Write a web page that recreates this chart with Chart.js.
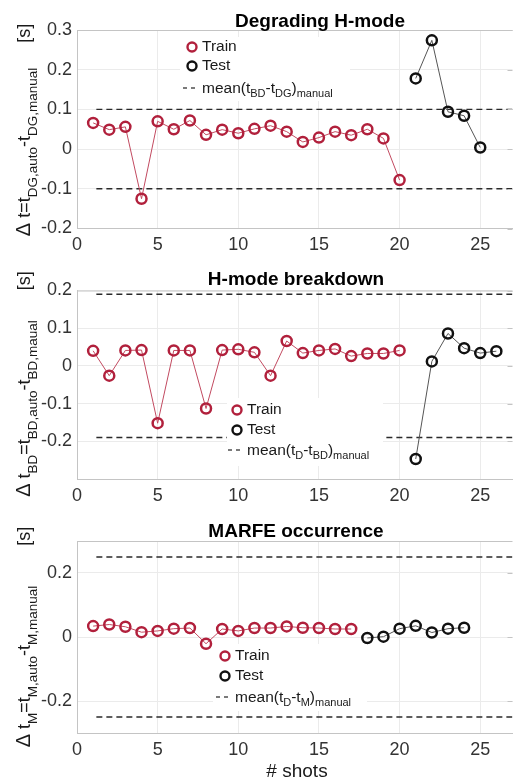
<!DOCTYPE html>
<html>
<head>
<meta charset="utf-8">
<script src="https://cdn.jsdelivr.net/npm/chart.js@4.4.1/dist/chart.umd.min.js"></script>
<style>
  html, body { margin: 0; padding: 0; background: #fff; overflow: hidden; }
  #wrap { position: relative; width: 514px; height: 780px; overflow: hidden; }
  canvas { position: absolute; left: 0; }
</style>
</head>
<body>
<div id="wrap">
  <canvas id="c1" width="520" height="260" style="top:0px"></canvas>
  <canvas id="c2" width="520" height="250" style="top:260px"></canvas>
  <canvas id="c3" width="520" height="270" style="top:510px"></canvas>
</div>
<script>
// --- data ---
const xTicks = [0, 5, 10, 15, 20, 25];

// Degrading H-mode
const dgTrainShots = [1, 2, 3, 4, 5, 6, 7, 8, 9, 10, 11, 12, 13, 14, 15, 16, 17, 18, 19, 20];
const dgTrain = [0.066, 0.049, 0.056, -0.125, 0.070, 0.050, 0.072, 0.036, 0.049, 0.040,
                 0.051, 0.059, 0.044, 0.018, 0.029, 0.044, 0.035, 0.050, 0.027, -0.078];
const dgTestShots = [21, 22, 23, 24, 25];
const dgTest = [0.178, 0.274, 0.094, 0.084, 0.004];
const dgLimit = 0.1;
const dgYTicks = [-0.2, -0.1, 0, 0.1, 0.2, 0.3];

// H-mode breakdown
const bdTrainShots = [1, 2, 3, 4, 5, 6, 7, 8, 9, 10, 11, 12, 13, 14, 15, 16, 17, 18, 19, 20];
const bdTrain = [0.040, -0.026, 0.041, 0.042, -0.152, 0.041, 0.041, -0.113, 0.042, 0.044,
                 0.036, -0.026, 0.066, 0.034, 0.041, 0.045, 0.026, 0.033, 0.033, 0.041];
const bdTestShots = [21, 22, 23, 24, 25, 26];
const bdTest = [-0.247, 0.012, 0.086, 0.047, 0.034, 0.039];
const bdLimit = 0.19;
const bdYTicks = [-0.2, -0.1, 0, 0.1, 0.2];

// MARFE occurrence
const mTrainShots = [1, 2, 3, 4, 5, 6, 7, 8, 9, 10, 11, 12, 13, 14, 15, 16, 17];
const mTrain = [0.034, 0.039, 0.032, 0.015, 0.019, 0.026, 0.028, -0.021, 0.025, 0.019,
                0.028, 0.028, 0.033, 0.029, 0.028, 0.025, 0.025];
const mTestShots = [18, 19, 20, 21, 22, 23, 24];
const mTest = [-0.003, 0.001, 0.026, 0.035, 0.014, 0.026, 0.029];
const mLimit = 0.25;
const mYTicks = [-0.2, 0, 0.2];

// --- styling ---
const FONT = "'Liberation Sans', Arial, Helvetica, sans-serif";
const RED = '#b1203c';
const RED_LINE = '#c24a60';
const BLACK = '#111111';
const GRID = '#ebebeb';
const AXIS = '#c4c4c4';

function pts(xs, ys) {
  return xs.map((x, i) => ({ x: x, y: ys[i] }));
}

// draws text pieces one after another: [text, kind] kind 0 = normal, 1 = subscript, 2 = big symbol
function richText(ctx, parts, x, y, sizes, draw) {
  let cx = x;
  for (const [t, kind] of parts) {
    ctx.font = sizes[kind] + 'px ' + FONT;
    const dy = kind === 1 ? sizes[3] : 0;
    if (draw) ctx.fillText(t, cx, y + dy);
    cx += ctx.measureText(t).width;
  }
  return cx - x;
}

// title, y label, legend, box
const decor = {
  id: 'decor',
  afterDatasetsDraw(chart, args, o) {
    const ctx = chart.ctx;
    const a = chart.chartArea;
    const ys = chart.scales.y;
    ctx.save();

    // box top + right ticks
    ctx.strokeStyle = AXIS;
    ctx.lineWidth = 1;
    ctx.beginPath();
    ctx.moveTo(a.left, a.top + 0.5);
    ctx.lineTo(a.right, a.top + 0.5);
    for (const v of o.yTicks) {
      const py = Math.round(ys.getPixelForValue(v)) + 0.5;
      ctx.moveTo(a.right - 5, py);
      ctx.lineTo(a.right, py);
    }
    ctx.stroke();

    // title
    ctx.fillStyle = '#000';
    ctx.font = 'bold 19px ' + FONT;
    ctx.textAlign = 'center';
    ctx.textBaseline = 'alphabetic';
    ctx.fillText(o.title, o.titleX, o.titleY);

    // legend
    const L = o.legend;
    ctx.fillStyle = '#fff';
    ctx.fillRect(L.box[0], L.box[1], L.box[2] - L.box[0], L.box[3] - L.box[1]);
    ctx.lineWidth = 2.4;
    ctx.strokeStyle = RED;
    ctx.beginPath(); ctx.arc(L.x, L.rows[0], 4.5, 0, Math.PI * 2); ctx.stroke();
    ctx.strokeStyle = BLACK;
    ctx.beginPath(); ctx.arc(L.x, L.rows[1], 4.5, 0, Math.PI * 2); ctx.stroke();
    ctx.lineWidth = 1.3;
    ctx.strokeStyle = '#333';
    ctx.setLineDash([4, 4]);
    ctx.beginPath(); ctx.moveTo(L.x - 9, L.rows[2]); ctx.lineTo(L.x + 5, L.rows[2]); ctx.stroke();
    ctx.setLineDash([]);
    ctx.fillStyle = '#1a1a1a';
    ctx.textAlign = 'left';
    ctx.textBaseline = 'middle';
    ctx.font = '15.5px ' + FONT;
    ctx.fillText('Train', L.x + 10, L.rows[0]);
    ctx.fillText('Test', L.x + 10, L.rows[1]);
    ctx.textBaseline = 'alphabetic';
    richText(ctx, L.mean, L.x + 10, L.rows[2] + 5, [15.5, 11, 15.5, 4], true);

    // rotated y label
    ctx.save();
    ctx.fillStyle = '#1a1a1a';
    ctx.translate(o.yLabelX, o.yLabelY);
    ctx.rotate(-Math.PI / 2);
    const sizes = [18, 13.5, 20, 7];
    const w = richText(ctx, o.yLabel, 0, 0, sizes, false);
    richText(ctx, o.yLabel, -w / 2, 0, sizes, true);
    ctx.restore();

    // x label
    if (o.xLabel) {
      ctx.fillStyle = '#1a1a1a';
      ctx.font = '19px ' + FONT;
      ctx.textAlign = 'center';
      ctx.textBaseline = 'middle';
      ctx.fillText(o.xLabel, 297, o.xLabelY);
    }
    ctx.restore();
  }
};

function makeChart(id, p) {
  p.decor.yTicks = p.yTicks;
  return new Chart(document.getElementById(id), {
    type: 'scatter',
    data: {
      datasets: [
        {
          data: pts(p.trainX, p.trainY), showLine: true,
          borderColor: RED_LINE, borderWidth: 1,
          pointBorderColor: RED, pointBackgroundColor: 'rgba(0,0,0,0)',
          pointRadius: 5, pointBorderWidth: 2.5
        },
        {
          data: pts(p.testX, p.testY), showLine: true,
          borderColor: '#555', borderWidth: 1,
          pointBorderColor: BLACK, pointBackgroundColor: 'rgba(0,0,0,0)',
          pointRadius: 5, pointBorderWidth: 2.5
        },
        {
          data: pts([1.2, 27], [p.limit, p.limit]), showLine: true,
          borderColor: '#2a2a2a', borderWidth: 1.4, borderDash: [6, 4], pointRadius: 0
        },
        {
          data: pts([1.2, 27], [-p.limit, -p.limit]), showLine: true,
          borderColor: '#2a2a2a', borderWidth: 1.4, borderDash: [6, 4], pointRadius: 0
        }
      ]
    },
    options: {
      responsive: false,
      animation: false,
      layout: { padding: { top: p.top, right: 1.2, left: 0, bottom: 0 } },
      plugins: {
        legend: { display: false },
        tooltip: { enabled: false },
        decor: p.decor
      },
      scales: {
        x: {
          type: 'linear', min: 0, max: 27,
          afterBuildTicks: s => { s.ticks = xTicks.map(v => ({ value: v })); },
          afterFit: s => { s.height = p.xHeight; },
          grid: { color: GRID, drawTicks: false },
          border: { color: AXIS },
          ticks: { padding: 6, color: '#333', font: { size: 18, family: FONT } }
        },
        y: {
          type: 'linear', min: p.yMin, max: p.yMax,
          afterBuildTicks: s => { s.ticks = p.yTicks.map(v => ({ value: v })); },
          afterFit: s => { s.width = 77; },
          grid: { color: GRID, drawTicks: false },
          border: { color: AXIS },
          ticks: {
            padding: 5, color: '#333', font: { size: 18, family: FONT },
            callback: v => String(Math.round(v * 10) / 10)
          }
        }
      }
    },
    plugins: [decor]
  });
}

makeChart('c1', {
  trainX: dgTrainShots, trainY: dgTrain, testX: dgTestShots, testY: dgTest,
  limit: dgLimit, yTicks: dgYTicks, yMin: -0.2, yMax: 0.3,
  top: 30, xHeight: 31.5,
  decor: {
    title: 'Degrading H-mode', titleX: 320, titleY: 27,
    yLabelX: 30, yLabelY: 130,
    yLabel: [['\u0394', 2], [' t=t', 0], ['DG,auto', 1], ['-t', 0], ['DG,manual', 1], ['     [s]', 0]],
    legend: {
      x: 192, rows: [47, 66, 88], box: [180, 37, 350, 101],
      mean: [['mean(t', 0], ['BD', 1], ['-t', 0], ['DG', 1], [')', 0], ['manual', 1]]
    }
  }
});

makeChart('c2', {
  trainX: bdTrainShots, trainY: bdTrain, testX: bdTestShots, testY: bdTest,
  limit: bdLimit, yTicks: bdYTicks, yMin: -0.3, yMax: 0.2,
  top: 30.5, xHeight: 31,
  decor: {
    title: 'H-mode breakdown', titleX: 296, titleY: 25,
    yLabelX: 30, yLabelY: 124,
    yLabel: [['\u0394', 2], [' t', 0], ['BD', 1], ['=t', 0], ['BD,auto', 1], ['-t', 0], ['BD,maual', 1], ['      [s]', 0]],
    legend: {
      x: 237, rows: [150, 170, 190], box: [227, 138, 383, 206],
      mean: [['mean(t', 0], ['D', 1], ['-t', 0], ['BD', 1], [')', 0], ['manual', 1]]
    }
  }
});

makeChart('c3', {
  trainX: mTrainShots, trainY: mTrain, testX: mTestShots, testY: mTest,
  limit: mLimit, yTicks: mYTicks, yMin: -0.3, yMax: 0.3,
  top: 31, xHeight: 47,
  decor: {
    title: 'MARFE occurrence', titleX: 296, titleY: 27,
    yLabelX: 30, yLabelY: 127,
    yLabel: [['\u0394', 2], [' t', 0], ['M', 1], ['=t', 0], ['M,auto', 1], ['-t', 0], ['M,manual', 1], ['        [s]', 0]],
    legend: {
      x: 225, rows: [146, 166, 187], box: [213, 134, 367, 201],
      mean: [['mean(t', 0], ['D', 1], ['-t', 0], ['M', 1], [')', 0], ['manual', 1]]
    },
    xLabel: '# shots', xLabelY: 262
  }
});
</script>
</body>
</html>
